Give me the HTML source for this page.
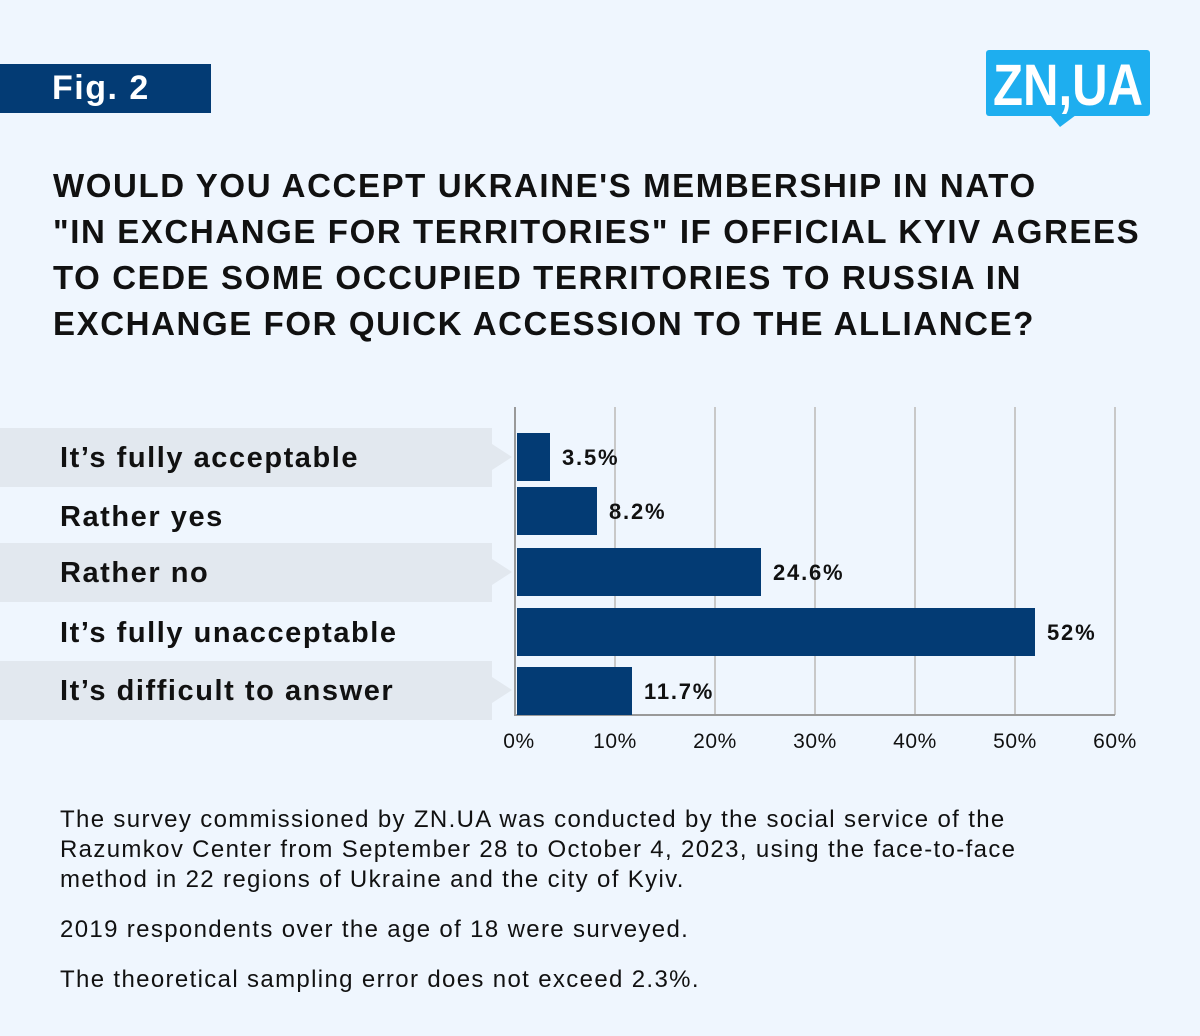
<!DOCTYPE html>
<html><head><meta charset="utf-8"><style>
body{margin:0;width:1200px;height:1036px;background:#eff6fe;font-family:"Liberation Sans",sans-serif;position:relative;overflow:hidden}
.abs{position:absolute}
</style></head><body>
<div class="abs" style="left:0;top:64px;width:211px;height:49px;background:#033b74;color:#fff;font-weight:bold;font-size:34px;line-height:49px;text-indent:52px;letter-spacing:1.5px">Fig. 2</div>
<svg class="abs" style="left:980px;top:45px" width="180" height="90">
<rect x="6" y="5" width="164" height="66" rx="3" fill="#1eaeef"/>
<polygon points="70,70 96,70 80,82" fill="#1eaeef"/>
<text x="88" y="60" text-anchor="middle" fill="#fff" font-size="58" font-weight="bold" font-family="Liberation Sans, sans-serif" textLength="150" lengthAdjust="spacingAndGlyphs">ZN,UA</text>
</svg>
<div class="abs" style="left:53px;top:163px;font-weight:bold;font-size:33px;line-height:46px;color:#111;letter-spacing:1.6px">WOULD YOU ACCEPT UKRAINE'S MEMBERSHIP IN NATO<br>"IN EXCHANGE FOR TERRITORIES" IF OFFICIAL KYIV AGREES<br>TO CEDE SOME OCCUPIED TERRITORIES TO RUSSIA IN<br>EXCHANGE FOR QUICK ACCESSION TO THE ALLIANCE?</div>
<svg id="chart" class="abs" style="left:0;top:0" width="1200" height="780"></svg>
<div class="abs" style="left:60px;top:805px;font-size:24px;line-height:30px;color:#111;letter-spacing:1.35px">The survey commissioned by ZN.UA was conducted by the social service of the<br>Razumkov Center from September 28 to October 4, 2023, using the face-to-face<br>method in 22 regions of Ukraine and the city of Kyiv.<div style="height:20px"></div>2019 respondents over the age of 18 were surveyed.<div style="height:20px"></div>The theoretical sampling error does not exceed 2.3%.</div>
<script>
const categories=["It’s fully acceptable","Rather yes","Rather no","It’s fully unacceptable","It’s difficult to answer"];
const values=[3.5,8.2,24.6,52,11.7];
const valueLabels=["3.5%","8.2%","24.6%","52%","11.7%"];
const ticks=[0,10,20,30,40,50,60];
const svg=document.getElementById('chart');
const NS='http://www.w3.org/2000/svg';
const x0=515,pxPer=10;
const xs=v=>x0+v*pxPer;
const rowTop=[428,487,543,603,661];
const barTop=[433,487,548,608,667];
function mk(t,a){const e=document.createElementNS(NS,t);for(const k in a)e.setAttribute(k,a[k]);svg.appendChild(e);return e;}
ticks.forEach((t,i)=>{
 if(t>0){const g=mk('line',{x1:xs(t),x2:xs(t),y1:407,y2:715,stroke:'#c8c8c8','stroke-width':2});
 
 }
 const l=mk('text',{x:xs(t)+(i==0?4:0),y:748,'text-anchor':'middle','font-size':21,fill:'#111','letter-spacing':'0.6','font-family':'Liberation Sans, sans-serif'});
 l.textContent=t+'%';
 
 
});
const ax=mk('path',{d:'M515 407V715H1115',stroke:'#999',fill:'none','stroke-width':2});


categories.forEach((c,i)=>{
 const top=rowTop[i],h=59,mid=top+29;
 if(i%2==0){
  const b=mk('path',{d:`M0 ${top}H492V${mid-13}L512 ${mid}L492 ${mid+13}V${top+h}H0Z`,fill:'#e2e8ef'});
  
  
 }
 const t=mk('text',{x:60,y:mid+10,'font-size':29,fill:'#111','font-weight':'bold','letter-spacing':'1.55','font-family':'Liberation Sans, sans-serif'});
 t.textContent=c;
 
 
 const r=mk('rect',{x:517,y:barTop[i],width:xs(values[i])-517,height:48,fill:'#033b74'});
 
 
 const v=mk('text',{x:xs(values[i])+12,y:barTop[i]+32,'font-size':22,'font-weight':'bold',fill:'#111','letter-spacing':'1.8','font-family':'Liberation Sans, sans-serif'});
 v.textContent=valueLabels[i];
 
 
});
</script>
</body></html>
